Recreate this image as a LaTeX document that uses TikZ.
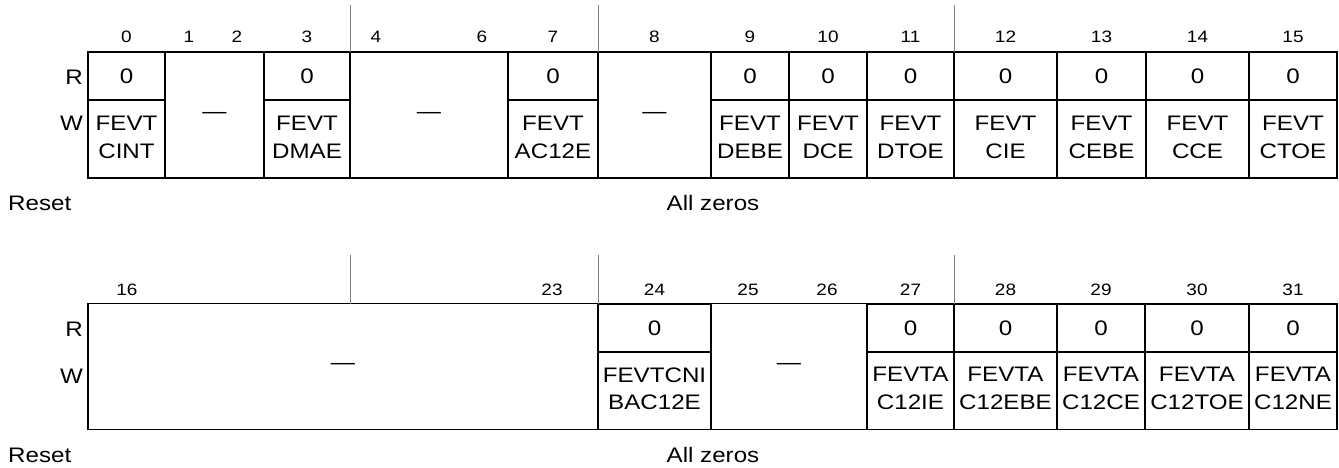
\documentclass[tikz,border=0pt]{standalone}
\usepackage{fontspec}
\setmainfont{Liberation Sans}[FakeStretch=1.15]
\usetikzlibrary{positioning}
\definecolor{tickgray}{RGB}{128,128,128}
\newcommand{\cellfont}{\fontsize{21}{27.6}\selectfont}
\newcommand{\bitfont}{\fontsize{16.5}{19}\selectfont}

\tikzset{
  cell/.style={draw, line width=1.5pt, inner sep=0pt, align=center, font=\cellfont},
  rcell/.style={cell, minimum height=48pt},
  wcell/.style={cell, minimum height=78pt, text depth=4pt},
  rsvcell/.style={cell, minimum height=126pt},
  bitno/.style={anchor=base, inner sep=0pt, font=\bitfont},
  side/.style={inner sep=0pt, font=\cellfont},
  nibble/.style={draw=tickgray, line width=1pt}
}

\begin{document}
\begin{tikzpicture}[x=1pt, y=-1pt]
  \useasboundingbox (0,0) rectangle (1339,468);

  % bits 0 to 15
  \foreach \b/\x in {0/126.5, 1/189, 2/237, 3/307, 4/376, 6/482, 7/553, 8/654.5, 9/750, 10/828, 11/910.5, 12/1005.5, 13/1101.5, 14/1197.5, 15/1293}
    \node[bitno] (b\b) at (\x,43) {\b};
  \foreach \xa/\xb/\txt/\n in {88/165/{FEVT\\CINT}/0, 264/350/{FEVT\\DMAE}/3, 508/598/{FEVT\\AC12E}/7, 711/789/{FEVT\\DEBE}/9, 789/867/{FEVT\\DCE}/10, 867/954/{FEVT\\DTOE}/11, 954/1057/{FEVT\\CIE}/12, 1057/1146/{FEVT\\CEBE}/13, 1146/1249/{FEVT\\CCE}/14, 1249/1337/{FEVT\\CTOE}/15} {
    \node[rcell, minimum width={(\xb-\xa)*1pt}] (r\n) at ({(\xa+\xb)/2},76) {0};
    \node[wcell, minimum width={(\xb-\xa)*1pt}] (w\n) at ({(\xa+\xb)/2},139) {\txt};
  }

  % bits 16 to 31
  \foreach \b/\x in {16/127, 23/552, 24/654.5, 25/748, 26/827, 27/910.5, 28/1005.5, 29/1101, 30/1197, 31/1293}
    \node[bitno] (b\b) at (\x,295) {\b};
  \foreach \xa/\xb/\txt/\n in {598/711/{FEVTCNI\\BAC12E}/24, 867/954/{FEVTA\\C12IE}/27, 954/1057/{FEVTA\\C12EBE}/28, 1057/1145/{FEVTA\\C12CE}/29, 1145/1249/{FEVTA\\C12TOE}/30, 1249/1337/{FEVTA\\C12NE}/31} {
    \node[rcell, minimum width={(\xb-\xa)*1pt}] (r\n) at ({(\xa+\xb)/2},328) {0};
    \node[wcell, minimum width={(\xb-\xa)*1pt}] (w\n) at ({(\xa+\xb)/2},390.5) {\txt};
  }

  % reserved fields
  \foreach \xa/\xb/\n/\y in {165/264/1/115, 350/508/4/115, 598/711/8/115, 88/598/16/366.5, 711/867/25/366.5}
    \node[rsvcell, minimum width={(\xb-\xa)*1pt}] (x\n) at ({(\xa+\xb)/2},\y) {\textemdash};

  \foreach \x in {350,598,954} {
    \draw[nibble] (\x,5) -- (\x,52);
    \draw[nibble] (\x,255) -- (\x,304);
  }

  \node[side, anchor=base east] (rlab) at (83,85) {R};
  \node[side, anchor=base east] (wlab) at (83,131) {W};
  \node[side, anchor=base west] (reset) at (8,211) {Reset};
  \node[side, anchor=base] (zeros) at (713,211) {All zeros};
  \node[side, anchor=base east] (rlab2) at (83,336) {R};
  \node[side, anchor=base east] (wlab2) at (83,383) {W};
  \node[side, anchor=base west] (reset2) at (8,462) {Reset};
  \node[side, anchor=base] (zeros2) at (713,462) {All zeros};
\end{tikzpicture}
\end{document}
